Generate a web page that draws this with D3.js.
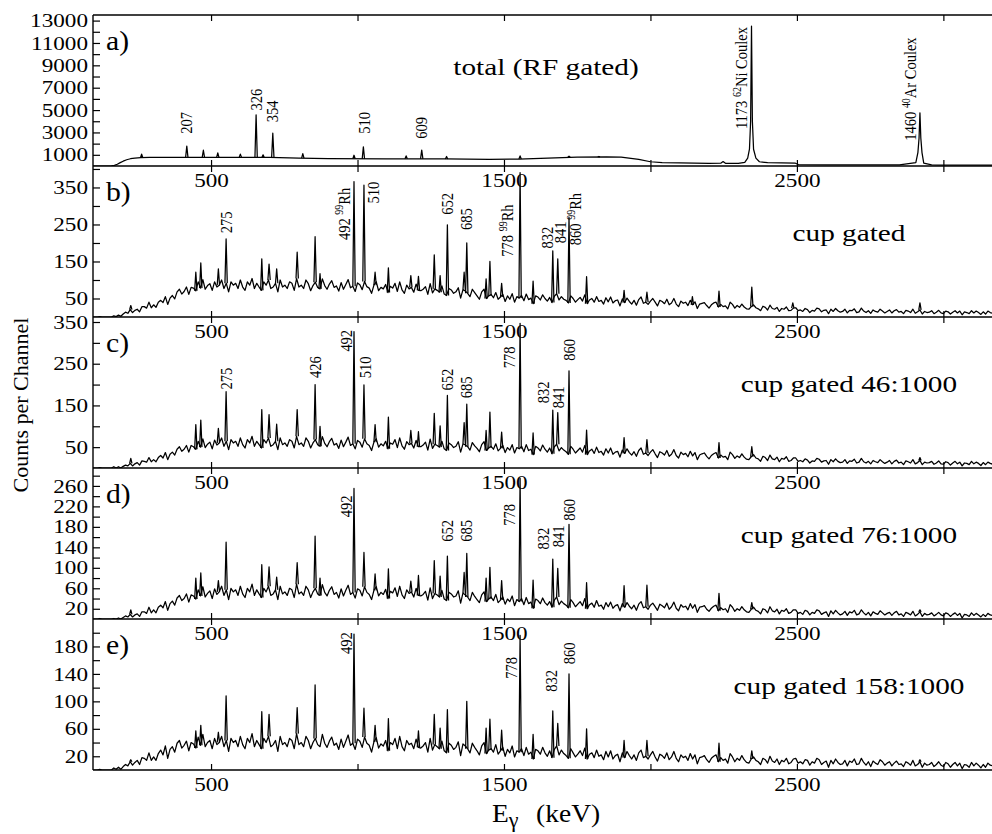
<!DOCTYPE html>
<html>
<head>
<meta charset="utf-8">
<script src="https://cdn.jsdelivr.net/npm/d3@7"></script>
<style>
  body { margin: 0; background: #fff; }
  svg { display: block; font-family: "Liberation Serif", "Times New Roman", serif; }
  .spec { fill: none; stroke: #000; stroke-width: 1.25; stroke-linejoin: round; }
  .frame { stroke: #000; stroke-width: 1.4; }
  .axis line { stroke: #000; stroke-width: 1.2; }
</style>
</head>
<body>
<svg width="992" height="834"></svg>
<script>
// x axis is in channels, peaks are given in keV (2 channels per keV)
const gain = 2;
const chRange = [97, 3166];
const xTicks = [500, 1000, 1500, 2000, 2500, 3000];
const xLabels = [500, 1500, 2500];

// y axes
const yMax = [13500, 408, 362, 295, 220];
const aTicks = [1000, 2000, 3000, 4000, 5000, 6000, 7000, 8000, 9000, 10000, 11000, 12000, 13000];
const aLabels = [1000, 3000, 5000, 7000, 9000, 11000, 13000];
const bTicks = [50, 100, 150, 200, 250, 300, 350, 400];
const bLabels = [50, 150, 250, 350];
const cTicks = [50, 100, 150, 200, 250, 300, 350];
const cLabels = [50, 150, 250, 350];
const dTicks = [20, 40, 60, 80, 100, 120, 140, 160, 180, 200, 220, 240, 260, 280];
const dLabels = [20, 60, 100, 140, 180, 220, 260];
const eTicks = [20, 40, 60, 80, 100, 120, 140, 160, 180, 200];
const eLabels = [20, 60, 100, 140, 180];

const tags = ["a)", "b)", "c)", "d)", "e)"];
const titles = ["total (RF gated)", "cup gated", "cup gated 46:1000", "cup gated 76:1000", "cup gated 158:1000"];

// panel a: smooth total spectrum, [channel, counts]
const aBg = [[97,0],[150,0],[160,10],[170,60],[180,160],[190,300],[200,430],[212,560],[225,650],[240,710],
  [260,740],[290,760],[400,770],[600,770],[700,760],[800,700],[900,660],[1100,640],[1300,630],[1450,600],
  [1550,620],[1650,700],[1750,800],[1850,820],[1900,790],[1960,600],[2000,380],[2040,310],[2100,270],[2200,230],
  [2240,250],[2248,400],[2256,240],[2300,230],[2322,330],[2332,700],[2338,1500],[2342,4000],[2345,12500],[2348,4000],
  [2352,1500],[2360,700],[2372,380],[2400,300],[2495,250],[2505,130],[2600,110],[2850,110],[2906,300],[2913,1200],
  [2917,2500],[2920,4750],[2923,2500],[2927,1200],[2933,250],[2960,110],[3000,85],[3166,80]];
const aPeaks = [[131.5,1060],[208.6,1780],[236.9,1410],[261.5,1180],[300,1060],[326.9,4570],[338.8,1000],
  [355.4,2930],[406.6,1100],[494,960],[510,1720],[583,900],[609.6,1430],[652,850],[777.5,900],[861,880],[912,850]];

// panels b-e: counts sampled every 8 channels from channel 96
const bgStart = 96, bgStep = 8;
const bCounts = [
  0,0,0,1,0,0,0,0,0,3,1,5,2,8,13,10,20,12,18,21,
  14,28,28,24,40,25,33,26,40,45,39,55,34,51,58,49,68,75,62,69,
  81,61,80,78,71,95,78,101,75,85,90,72,95,81,86,100,77,91,68,95,
  86,91,77,100,81,72,95,86,104,77,91,81,72,95,86,100,77,81,91,68,
  100,81,86,77,95,91,72,104,81,86,77,100,90,71,85,94,80,76,103,85,
  75,89,98,80,84,70,93,75,88,101,79,83,69,92,87,74,96,82,78,64,
  86,95,71,80,76,88,66,83,78,91,69,95,73,64,86,76,80,67,89,72,
  71,75,82,61,90,65,76,72,67,84,62,58,77,73,64,68,79,51,74,70,
  64,55,75,66,57,48,68,75,50,57,61,52,66,48,54,61,42,57,48,63,
  40,55,51,58,44,62,47,51,36,57,54,46,60,50,43,53,39,56,63,46,
  55,48,45,38,57,50,40,47,53,43,60,36,46,50,40,55,42,45,35,52,
  41,54,38,44,46,30,49,39,51,42,35,45,32,47,54,37,40,34,43,50,
  40,30,45,42,36,48,33,38,50,35,28,43,37,40,31,45,33,41,23,35,
  37,39,31,24,33,38,40,27,34,28,30,22,40,34,24,31,26,35,27,22,
  21,28,33,25,22,17,29,26,19,32,23,21,26,15,23,21,27,17,18,24,
  25,17,19,15,23,20,12,18,16,24,22,14,18,19,9,21,15,23,17,13,
  15,21,11,18,17,22,12,14,24,16,12,17,10,19,15,13,21,16,11,15,
  19,11,17,20,13,15,9,18,16,12,21,10,14,19,8,15,12,13,17,9,
  13,18,11,9,16,14,8,13,17,11,16,6,14,12,9,17,11,16,12,7,
  14,8,16,12,10];
const cCounts = [
  0,0,0,1,0,0,0,0,0,3,0,3,0,4,7,5,11,5,10,13,
  7,17,16,14,25,15,20,15,25,30,24,37,20,33,38,31,45,51,40,45,
  54,38,54,51,45,64,50,70,49,57,62,46,67,55,60,72,52,64,44,68,
  60,64,52,72,56,48,68,60,76,52,64,56,48,68,60,72,52,56,64,44,
  72,56,60,52,68,64,48,76,56,60,52,72,64,48,60,68,56,52,75,59,
  51,63,71,55,59,47,67,51,62,74,54,58,46,66,62,50,70,58,54,42,
  62,70,50,58,53,64,46,60,57,68,49,72,53,45,63,56,59,48,66,51,
  51,55,62,43,69,47,57,54,50,64,46,42,60,56,49,52,63,38,58,55,
  51,43,61,53,47,39,56,63,42,48,52,45,58,41,47,54,37,49,43,56,
  36,49,46,52,39,56,42,45,32,52,48,41,55,45,38,48,34,51,57,41,
  49,43,39,33,52,45,36,42,48,38,54,32,41,45,35,50,37,40,31,46,
  36,48,33,38,40,26,43,35,46,37,31,39,28,42,48,33,36,30,38,44,
  34,25,39,36,31,42,28,33,44,30,24,38,32,35,27,40,29,37,20,31,
  34,36,28,22,30,34,37,24,31,26,28,20,38,32,23,29,25,34,26,21,
  20,27,32,24,22,16,28,25,18,31,22,20,26,15,23,21,27,16,18,24,
  24,16,18,15,22,19,12,17,16,23,21,14,17,18,9,20,15,22,16,13,
  14,20,11,17,16,21,12,14,23,15,12,16,10,18,15,13,20,15,11,14,
  18,10,16,19,12,14,8,17,15,12,20,10,13,18,8,14,12,13,16,9,
  12,17,10,9,15,13,7,12,16,10,14,5,12,11,8,16,10,14,11,6,
  13,8,14,11,9];
const dCounts = [
  0,0,0,1,0,0,0,0,0,1,0,2,0,3,6,4,9,4,8,10,
  5,14,14,11,23,12,18,12,23,27,22,34,17,30,35,27,41,46,36,40,
  49,33,47,45,39,57,45,63,43,50,55,40,59,48,53,64,46,57,38,60,
  53,57,46,64,49,42,60,53,68,46,57,49,42,60,53,64,46,49,57,38,
  64,49,53,46,60,57,42,68,49,53,46,64,57,42,53,60,49,46,67,52,
  45,56,63,48,52,41,59,45,56,66,48,52,41,59,56,45,63,52,48,38,
  56,63,45,52,48,58,40,54,51,61,44,64,47,40,57,50,53,43,60,46,
  45,48,54,37,61,40,50,47,43,56,39,36,52,49,43,45,55,31,51,47,
  43,36,52,44,38,32,47,53,34,39,43,36,48,32,37,43,29,39,34,45,
  26,38,34,40,28,42,30,33,21,39,36,30,41,32,27,34,23,37,43,28,
  35,30,27,22,38,32,24,29,34,26,40,20,28,31,23,36,25,27,19,32,
  24,33,21,26,28,16,30,23,32,25,20,27,17,29,34,22,24,19,27,31,
  24,17,29,26,22,31,19,24,33,21,16,28,23,25,18,30,21,28,13,23,
  24,26,19,15,21,25,27,16,22,18,20,13,28,23,15,20,17,24,18,14,
  13,19,23,17,15,10,20,18,12,24,16,14,19,10,17,15,20,11,13,18,
  18,11,13,9,17,15,8,13,11,18,16,9,12,14,5,16,10,17,12,8,
  10,15,7,14,12,17,8,10,18,12,8,13,6,14,11,9,16,12,8,11,
  13,7,12,15,8,10,5,13,11,8,15,6,9,14,5,11,8,9,12,6,
  9,13,8,6,12,10,5,9,12,7,11,2,9,8,5,12,7,11,8,4,
  9,5,11,8,7];
const eCounts = [
  0,0,0,1,0,0,0,0,0,3,1,4,1,5,8,6,12,7,11,14,
  8,18,17,14,25,14,19,14,24,29,22,35,17,30,34,26,39,43,32,36,
  42,28,40,38,32,48,36,52,34,40,43,31,46,37,40,49,34,43,27,46,
  40,43,34,49,37,31,46,40,53,34,43,37,31,46,40,49,34,37,43,27,
  49,37,40,34,46,43,31,53,37,40,34,49,43,31,40,46,37,34,52,39,
  33,42,48,36,39,30,45,33,42,51,36,39,30,45,42,33,48,39,36,26,
  41,47,32,38,35,43,28,40,37,46,31,49,34,28,43,37,39,31,45,33,
  32,35,40,26,46,29,37,34,31,42,28,25,39,36,30,33,41,21,38,35,
  31,25,39,33,28,22,35,40,24,29,31,26,37,23,28,33,20,30,25,35,
  19,28,26,31,21,33,23,26,16,30,28,23,33,25,20,28,18,30,35,22,
  29,24,21,17,31,25,19,23,28,21,32,16,23,25,18,29,20,22,15,27,
  19,28,16,21,23,12,25,18,27,21,16,22,14,25,29,18,20,16,22,27,
  19,13,23,21,17,25,15,19,27,17,12,22,18,20,14,24,16,22,9,18,
  19,21,15,11,17,20,22,12,18,14,16,10,24,19,12,17,14,21,15,11,
  10,16,19,14,12,8,17,15,10,20,13,11,16,8,14,12,17,9,11,16,
  17,10,12,9,15,14,7,12,10,17,15,8,11,13,4,14,9,16,11,8,
  9,14,6,13,11,16,8,9,17,11,7,12,5,13,10,8,15,12,7,10,
  12,6,10,13,8,9,5,12,10,7,14,6,8,12,4,10,7,8,11,5,
  8,12,7,5,11,9,4,8,11,6,10,2,8,7,4,11,6,10,7,3,
  8,4,10,7,6];

// peaks [keV, counts at top]
const bPeaks = [[113,31],[224,121],[232.5,146],[262.5,130],[275.7,211],[336.6,157],[349,143],[362,130],
  [397,175],[427.6,217],[436,117],[494,366],[511,356],[530,121],[552.7,133],[591,112],[604,110],[631,168],
  [641,112],[653.4,249],[682,121],[686.5,200],[719.5,103],[726,150],[746,91],[777.5,390],[799.7,97],
  [833.3,179],[841.8,157],[861,269],[891,109],[955,72],[994,67],[1071.6,55],[1117,70],[1173,81],[1243,38],[1460,38]];
const cPeaks = [[113,23],[224,104],[232.5,115],[262.5,95],[275.7,183],[336.6,140],[349,128],[362,105],
  [397,140],[427.6,200],[436,100],[494,327],[511,199],[530,104],[552.7,122],[591,90],[604,87],[631,131],
  [641,101],[653.4,174],[682,109],[686.5,153],[719.5,90],[726,134],[746,86],[777.5,347],[799.7,84],
  [833.3,139],[841.8,133],[861,233],[891,91],[955,73],[994,68],[1117,61],[1173,51],[1460,25]];
const dPeaks = [[113,18],[224,80],[232.5,90],[262.5,75],[275.7,150],[336.6,106],[349,102],[362,82],
  [397,110],[427.6,162],[436,80],[494,255],[511,130],[530,88],[552.7,98],[591,74],[604,85],[631,114],
  [641,84],[653.4,123],[682,91],[686.5,128],[719.5,80],[726,101],[746,75],[777.5,275],[799.7,76],
  [833.3,117],[841.8,99],[861,185],[891,71],[955,65],[994,66],[1117,50],[1173,32],[1460,18]];
const ePeaks = [[113,15],[224,57],[232.5,65],[262.5,55],[275.7,108],[336.6,85],[349,81],[397,91],
  [427.6,124],[494,198],[511,90],[530,65],[552.7,75],[604,57],[631,81],[641,61],[653.4,88],[686.5,100],
  [719.5,61],[726,74],[746,58],[777.5,196],[799.7,52],[833.3,86],[841.8,68],[861,140],[891,60],
  [955,43],[994,43],[1117,39],[1173,28],[1460,15]];

// peak labels [text, keV of label, counts where the text starts]; ^..^ marks a superscript
const aNotes = [["207",207.4,2890],["326",326,4960],["354",354.2,3910],["510",510.9,2890],["609",608.2,2440],
  ["1173 ^62^Ni Coulex",1154,3300],["1460 ^40^Ar Coulex",1442.7,2260]];
const bNotes = [["275",275.3,226],["492 ^99^Rh",476,208],["510",526.3,307],["652",653.2,276],["685",685.8,235],
  ["778 ^99^Rh",755.8,163],["832",823,185],["841",845.8,199],["860 ^99^Rh",871.4,194]];
const cNotes = [["275",275.5,188],["426",427,216],["492",480,279],["510",513,215],["652",653.2,186],
  ["685",685.6,167],["778",758.2,239],["832",816.5,155],["841",842.4,143],["860",860,257]];
const dNotes = [["492",480,199],["652",653.2,151],["685",685.6,151],["778",759,182],["832",817,136],
  ["841",841.5,140],["860",860,192]];
const eNotes = [["492",481,169],["778",762,133],["832",829.5,114],["860",860,154]];

const gridLine = counts => counts.map((v, i) => [bgStart + i * bgStep, v]);

const panels = [
  { ticks: aTicks, labels: aLabels, line: aBg, peaks: aPeaks, notes: aNotes },
  { ticks: bTicks, labels: bLabels, line: gridLine(bCounts), peaks: bPeaks, notes: bNotes },
  { ticks: cTicks, labels: cLabels, line: gridLine(cCounts), peaks: cPeaks, notes: cNotes },
  { ticks: dTicks, labels: dLabels, line: gridLine(dCounts), peaks: dPeaks, notes: dNotes },
  { ticks: eTicks, labels: eLabels, line: gridLine(eCounts), peaks: ePeaks, notes: eNotes }
];

const serif = "'Liberation Serif', 'Times New Roman', serif";
const stretch = 1.22;   // the original figure is a bit wider than tall
const left = 93, right = 992, top0 = 15, panelH = 151;

const svg = d3.select("svg");
const defs = svg.append("defs");

const x = d3.scaleLinear().domain(chRange).range([left, right]);

panels.forEach((p, i) => {
  const top = top0 + i * panelH;
  const bottom = top + panelH;
  const y = d3.scaleLinear().domain([0, yMax[i]]).range([bottom, top]);

  defs.append("clipPath").attr("id", `clip-${i}`)
    .append("rect")
      .attr("x", left).attr("y", top)
      .attr("width", right - left).attr("height", panelH);

  const g = svg.append("g").attr("class", `panel panel-${i}`);

  const line = d3.line()
    .x(d => x(d[0]))
    .y(d => y(d[1]));

  const spec = g.append("g").attr("clip-path", `url(#clip-${i})`);

  spec.append("path")
    .attr("class", "spec")
    .attr("d", line(p.line));

  // peaks as thin spikes standing on the nearest recorded sample
  spec.selectAll(".peak")
    .data(p.peaks)
    .join("path")
      .attr("class", "spec peak")
      .attr("d", ([keV, h]) => {
        const ch = keV * gain;
        const base = d3.least(p.line, d => Math.abs(d[0] - ch))[1];
        return line([[ch - 4, base], [ch, h], [ch + 4, base]]);
      });

  // frame
  g.append("line").attr("class", "frame")
    .attr("x1", left).attr("x2", left).attr("y1", top).attr("y2", bottom);
  g.append("line").attr("class", "frame")
    .attr("x1", left).attr("x2", right).attr("y1", bottom).attr("y2", bottom);
  if (i === 0) {
    g.append("line").attr("class", "frame")
      .attr("x1", left).attr("x2", right).attr("y1", top).attr("y2", top);
  }

  // axes
  g.append("g")
      .attr("class", "axis")
      .attr("transform", `translate(${left},0)`)
      .call(d3.axisLeft(y).tickValues(p.ticks).tickSize(-7).tickSizeOuter(0).tickPadding(5)
        .tickFormat(d => p.labels.includes(d) ? d : ""))
      .attr("font-family", serif).attr("font-size", 19)
      .call(g => g.select(".domain").remove())
      .call(g => g.selectAll("text").attr("x", 0).attr("transform", `translate(-5,0) scale(${stretch},1)`));

  g.append("g")
      .attr("class", "axis")
      .attr("transform", `translate(0,${bottom})`)
      .call(d3.axisBottom(x).tickValues(xTicks).tickSize(-6).tickSizeOuter(0).tickPadding(8)
        .tickFormat(d => xLabels.includes(d) ? d : ""))
      .attr("font-family", serif).attr("font-size", 19)
      .call(g => g.select(".domain").remove())
      .call(g => g.selectAll("text").attr("transform", `scale(${stretch},1)`));

  g.append("g")
      .attr("class", "axis")
      .attr("transform", `translate(0,${top})`)
      .call(d3.axisTop(x).tickValues(xTicks).tickSize(-6).tickSizeOuter(0).tickFormat(""))
      .call(g => g.select(".domain").remove());

  // peak labels
  p.notes.forEach(([txt, keV, at]) => {
    const t = g.append("text")
      .attr("transform", `translate(${x(keV * gain)},${y(at)}) scale(${stretch},1) rotate(-90)`)
      .attr("font-size", 14.5);
    txt.split("^").forEach((s, k) => {
      t.append("tspan")
        .attr("font-size", k % 2 ? 10 : 14.5)
        .attr("dy", k === 0 ? 5 : (k % 2 ? -5 : 5))
        .text(s);
    });
  });

  // tag and title
  g.append("text")
    .attr("transform", `translate(106,${top + 35}) scale(1.1,1)`)
    .attr("font-size", 27)
    .text(tags[i]);

  g.append("text")
    .attr("transform", i === 0
      ? `translate(546,${top + 60}) scale(${stretch},1)`
      : `translate(849,${top + 74.7}) scale(${stretch},1)`)
    .attr("text-anchor", "middle")
    .attr("font-size", 24)
    .text(titles[i]);
});

// axis titles
svg.append("text")
  .attr("transform", `translate(28,${405}) rotate(-90)`)
  .attr("text-anchor", "middle")
  .attr("font-size", 22)
  .text("Counts per Channel");

const xTitle = svg.append("text")
  .attr("transform", "translate(492,822) scale(1.1,1)")
  .attr("font-size", 25);
xTitle.append("tspan").text("E");
xTitle.append("tspan").attr("font-size", 20).attr("dy", 5).text("γ");
xTitle.append("tspan").attr("dy", -5).attr("dx", 16).text("(keV)");
</script>
</body>
</html>
